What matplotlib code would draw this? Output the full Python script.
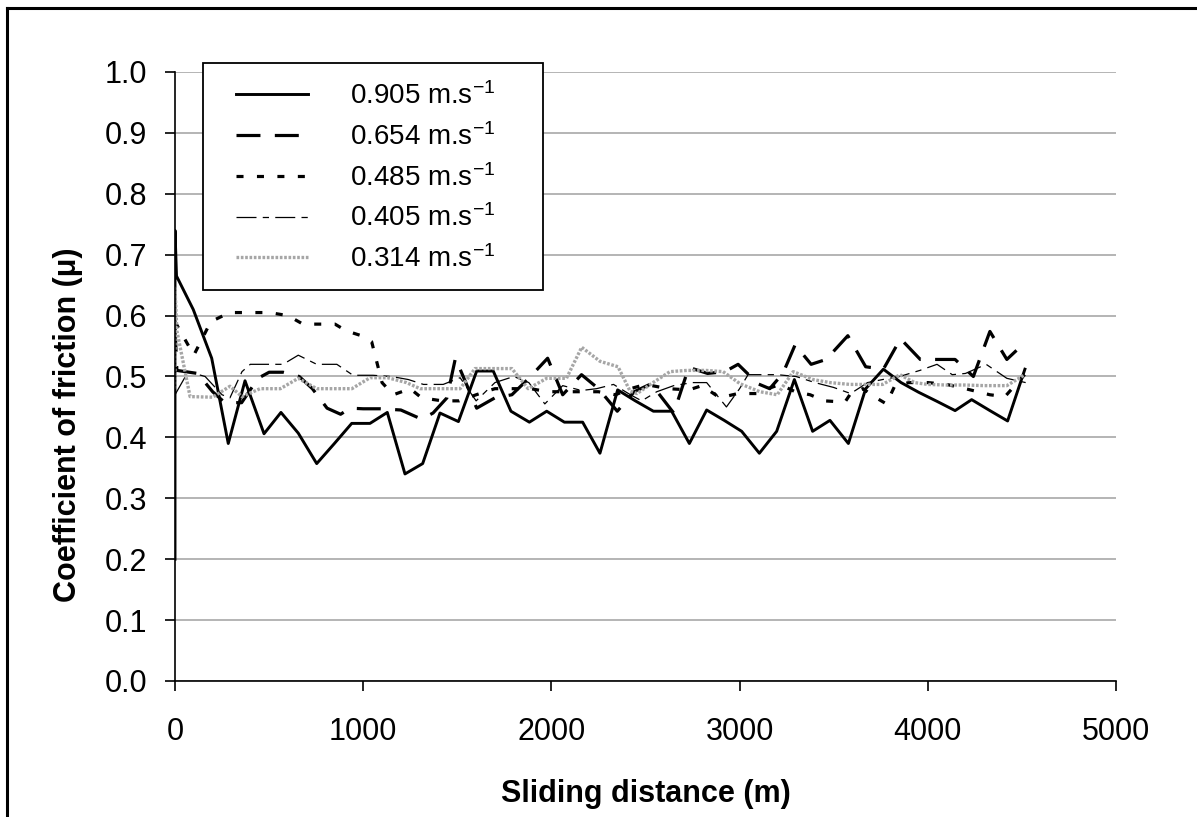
import matplotlib
matplotlib.use("Agg")
import matplotlib.pyplot as plt
from matplotlib.lines import Line2D
from matplotlib.patches import Rectangle

plt.rcParams['font.family'] = ['Liberation Sans', 'DejaVu Sans']
plt.rcParams['mathtext.default'] = 'regular'

# sliding distance (m) / coefficient of friction
x_905 = [0, 0, 8, 97, 195, 283, 372, 473, 563, 655, 753, 847, 939, 1036, 1128, 1222, 1316,
         1408, 1506, 1603, 1691, 1785, 1883, 1975, 2069, 2166, 2258, 2352, 2446, 2542, 2639,
         2733, 2825, 2918, 3011, 3105, 3197, 3291, 3388, 3480, 3578, 3670, 3764, 3858, 3952,
         4050, 4145, 4233, 4330, 4424, 4516]
y_905 = [0.20, 0.74, 0.665, 0.61, 0.53, 0.39, 0.493, 0.406, 0.441, 0.407, 0.357, 0.39, 0.423,
         0.423, 0.441, 0.34, 0.357, 0.44, 0.426, 0.509, 0.509, 0.443, 0.425, 0.443, 0.425,
         0.425, 0.374, 0.478, 0.46, 0.443, 0.443, 0.39, 0.445, 0.428, 0.41, 0.374, 0.41,
         0.495, 0.41, 0.428, 0.39, 0.48, 0.512, 0.49, 0.474, 0.459, 0.444, 0.462, 0.444,
         0.427, 0.512]

x_654 = [0, 10, 120, 200, 265, 354, 441, 500, 574, 660, 730, 808, 880, 930, 1000, 1090, 1200,
         1310, 1371, 1445, 1490, 1603, 1700, 1790, 1880, 1980, 2060, 2160, 2250, 2350, 2440,
         2530, 2650, 2730, 2830, 2922, 2992, 3098, 3160, 3230, 3295, 3380, 3460, 3575, 3670,
         3764, 3855, 3960, 4080, 4145, 4242, 4330, 4420, 4520]
y_654 = [0.58, 0.51, 0.505, 0.475, 0.457, 0.457, 0.497, 0.507, 0.507, 0.50, 0.48, 0.448, 0.438,
         0.448, 0.447, 0.447, 0.445, 0.43, 0.44, 0.465, 0.53, 0.448, 0.465, 0.47, 0.497, 0.53,
         0.47, 0.503, 0.48, 0.443, 0.475, 0.488, 0.44, 0.515, 0.505, 0.508, 0.52, 0.488, 0.48,
         0.505, 0.552, 0.52, 0.528, 0.567, 0.516, 0.512, 0.562, 0.528, 0.528, 0.528, 0.50,
         0.574, 0.528, 0.557]

x_485 = [0, 100, 190, 290, 400, 500, 600, 680, 760, 850, 910, 990, 1045, 1100, 1160, 1250,
         1310, 1420, 1510, 1600, 1700, 1790, 1890, 1980, 2070, 2160, 2250, 2340, 2420, 2500,
         2620, 2730, 2800, 2895, 2990, 3090, 3150, 3215, 3295, 3375, 3450, 3560, 3590, 3655,
         3720, 3780, 3825, 3900, 4000, 4100, 4200, 4330, 4410, 4520]
y_485 = [0.59, 0.535, 0.59, 0.605, 0.605, 0.605, 0.60, 0.586, 0.586, 0.586, 0.575, 0.567,
         0.557, 0.49, 0.47, 0.48, 0.465, 0.46, 0.46, 0.47, 0.48, 0.48, 0.48, 0.475, 0.475,
         0.475, 0.475, 0.47, 0.48, 0.487, 0.48, 0.478, 0.485, 0.465, 0.472, 0.472, 0.48,
         0.487, 0.475, 0.47, 0.46, 0.458, 0.472, 0.48, 0.466, 0.455, 0.485, 0.49, 0.49,
         0.487, 0.48, 0.47, 0.467, 0.505]

x_405 = [0, 70, 160, 250, 292, 356, 400, 480, 574, 655, 753, 860, 946, 1052, 1150, 1240, 1320,
         1425, 1515, 1600, 1700, 1800, 1880, 1965, 2060, 2160, 2240, 2330, 2420, 2480, 2560,
         2650, 2750, 2825, 2930, 3000, 3045, 3200, 3300, 3400, 3500, 3590, 3680, 3760, 3850,
         3958, 4049, 4130, 4200, 4310, 4420, 4520]
y_405 = [0.47, 0.508, 0.50, 0.47, 0.465, 0.508, 0.52, 0.52, 0.52, 0.535, 0.52, 0.52, 0.502,
         0.502, 0.50, 0.495, 0.487, 0.487, 0.498, 0.46, 0.49, 0.50, 0.49, 0.455, 0.485, 0.477,
         0.48, 0.487, 0.47, 0.46, 0.475, 0.485, 0.49, 0.49, 0.45, 0.48, 0.503, 0.503, 0.50,
         0.49, 0.482, 0.472, 0.49, 0.495, 0.50, 0.51, 0.52, 0.503, 0.505, 0.52, 0.497, 0.49]

x_314 = [0, 0, 10, 80, 200, 292, 356, 452, 560, 655, 753, 850, 940, 1036, 1130, 1230, 1302,
         1400, 1515, 1594, 1684, 1790, 1876, 1975, 2080, 2161, 2258, 2354, 2418, 2455, 2540,
         2630, 2720, 2820, 2912, 3003, 3108, 3200, 3285, 3390, 3480, 3587, 3670, 3760, 3852,
         3930, 4000, 4100, 4200, 4300, 4420, 4516]
y_314 = [0.48, 0.645, 0.575, 0.467, 0.466, 0.484, 0.467, 0.48, 0.48, 0.497, 0.48, 0.48, 0.48,
         0.498, 0.498, 0.49, 0.48, 0.48, 0.48, 0.513, 0.513, 0.513, 0.48, 0.497, 0.497, 0.548,
         0.525, 0.516, 0.476, 0.472, 0.49, 0.508, 0.51, 0.51, 0.508, 0.488, 0.475, 0.47,
         0.508, 0.495, 0.49, 0.487, 0.487, 0.487, 0.503, 0.49, 0.487, 0.486, 0.486, 0.485,
         0.485, 0.503]

labels = ['0.905 m.s$^{-1}$', '0.654 m.s$^{-1}$', '0.485 m.s$^{-1}$',
          '0.405 m.s$^{-1}$', '0.314 m.s$^{-1}$']
x_ticks = [0, 1000, 2000, 3000, 4000, 5000]
y_ticks = [0.0, 0.1, 0.2, 0.3, 0.4, 0.5, 0.6, 0.7, 0.8, 0.9, 1.0]

W, H = 1197, 817
fig = plt.figure(figsize=(W / 100, H / 100), dpi=100)
ax = fig.add_axes([175 / W, 1 - 681 / H, (1116 - 175) / W, (681 - 72) / H])

# outer frame (top and left edges only are visible in the original)
fig.add_artist(Line2D([7 / W, 7 / W], [0, 1 - 8 / H], transform=fig.transFigure,
                      color='black', lw=2.2))
fig.add_artist(Line2D([7 / W, 1], [1 - 8 / H, 1 - 8 / H], transform=fig.transFigure,
                      color='black', lw=2.2))

ax.plot(x_905, y_905, color='black', lw=2.1, label=labels[0])
ax.plot(x_654, y_654, color='black', lw=2.3, dashes=(7.5, 4.5), label=labels[1])
ax.plot(x_485, y_485, color='black', lw=2.3, dashes=(2.2, 4.2), label=labels[2])
ax.plot(x_405, y_405, color='black', lw=0.9, dashes=(16, 5, 5, 5), label=labels[3])
ax.plot(x_314, y_314, color='#a6a6a6', lw=2.4, dashes=(0.8, 0.5), label=labels[4])

ax.set_xlim(0, 5000)
ax.set_ylim(0, 1.0)
ax.set_xticks(x_ticks)
ax.set_yticks(y_ticks)
ax.set_yticklabels(['%.1f' % v for v in y_ticks])
ax.tick_params(axis='both', direction='out', length=7, width=1.2, labelsize=22)
ax.tick_params(axis='y', pad=13)
ax.tick_params(axis='x', pad=19)
ax.yaxis.grid(True, color='#a0a0a0', lw=1.1)
ax.set_axisbelow(True)
for s in ['top', 'right']:
    ax.spines[s].set_visible(False)
for s in ['left', 'bottom']:
    ax.spines[s].set_linewidth(1.2)

ax.set_xlabel('Sliding distance (m)', fontsize=22, fontweight='bold', labelpad=23)
ax.set_ylabel('Coefficient of friction (\u03bc)', fontsize=22, fontweight='bold')
ax.yaxis.set_label_coords((83 - 175) / 941, (681 - 425) / 609)

# legend box drawn separately so its size matches the original
box = Rectangle((203 / W, 1 - 290 / H), 340 / W, 227 / H, transform=fig.transFigure,
                facecolor='white', edgecolor='black', lw=1.3, zorder=5, clip_on=False)
ax.add_patch(box)
leg = ax.legend(loc='upper left', bbox_to_anchor=(236 / W, 1 - 82 / H),
                bbox_transform=fig.transFigure, fontsize=20, frameon=False,
                handlelength=2.6, handletextpad=1.5, labelspacing=0.47,
                borderpad=0, borderaxespad=0)
leg.set_zorder(6)

fig.savefig('out.png', dpi=100, facecolor='white')
